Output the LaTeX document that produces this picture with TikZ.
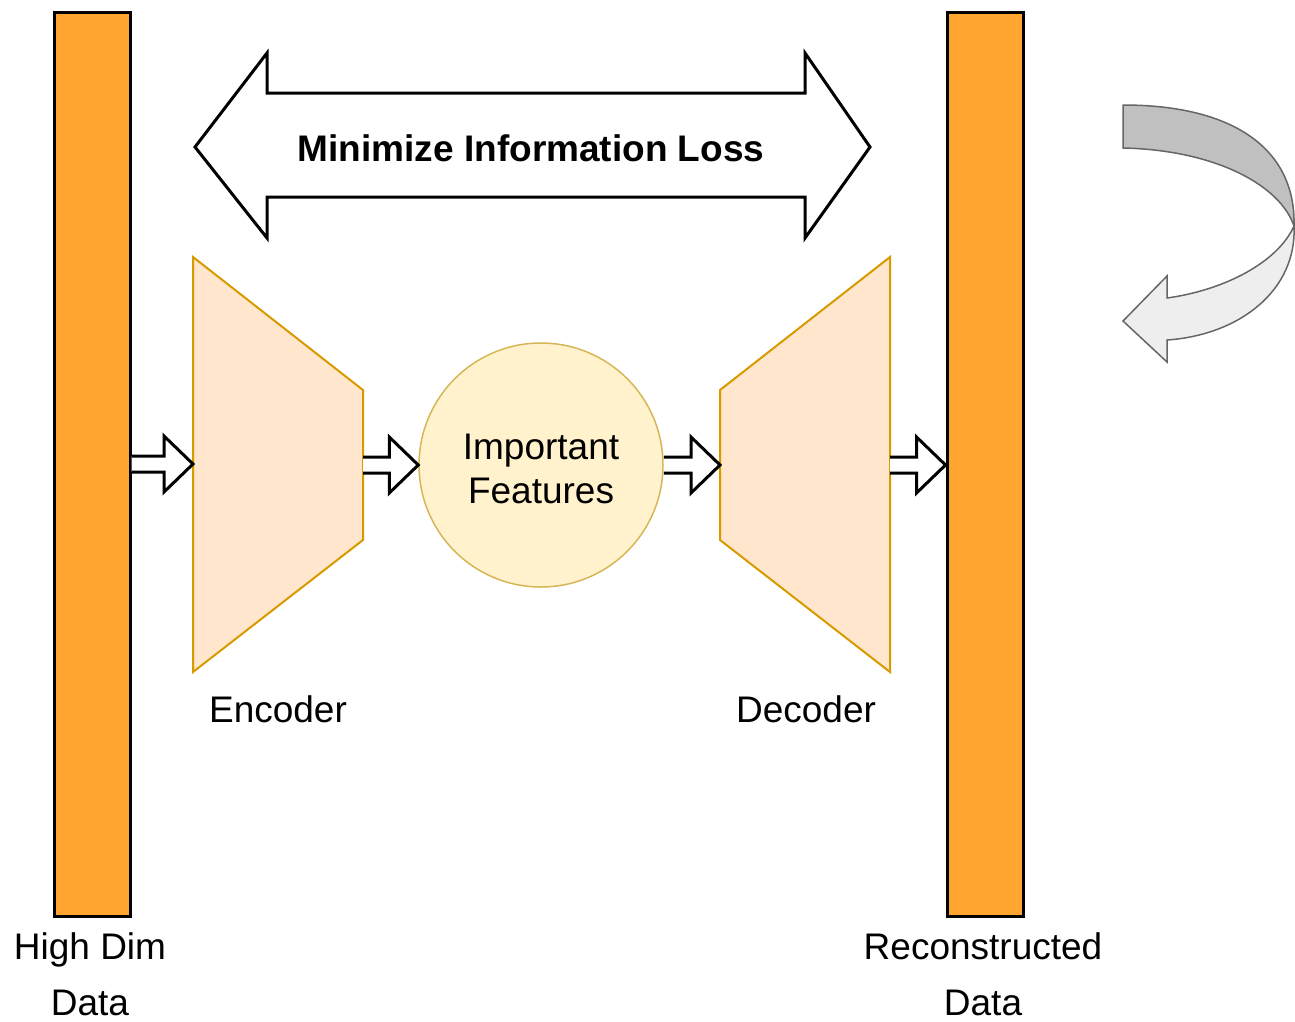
\documentclass[tikz,border=0pt]{standalone}
\usepackage{fontspec}
\setmainfont{Liberation Sans}
\usetikzlibrary{positioning, calc}
\definecolor{barorange}{HTML}{FFA530}
\definecolor{codefill}{HTML}{FFE6CC}
\definecolor{codeline}{HTML}{D79B00}
\definecolor{featfill}{HTML}{FFF2CC}
\definecolor{featline}{HTML}{D6B656}
\definecolor{loopline}{HTML}{666666}
\definecolor{loopdark}{HTML}{C0C0C0}
\definecolor{looplight}{HTML}{EEEEEE}
\tikzset{
  databar/.style={draw=black, line width=3pt, fill=barorange, inner sep=0pt,
                  minimum width=76pt, minimum height=904pt},
  coder/.style={draw=codeline, line width=2pt, fill=codefill, line join=miter},
  flow/.style={draw=black, line width=3pt, fill=white, line join=miter},
  label/.style={align=center, inner sep=0pt},
  loop/.style={draw=loopline, line width=1.5pt}
}
\newcommand{\flowarrow}[2]{%
  \draw[flow] let \p1=(#1), \p2=(#2) in
    (\x1,\y1+8pt) -- (\x2-29pt,\y1+8pt) -- (\x2-29pt,\y1+28pt) -- (\x2,\y1)
    -- (\x2-29pt,\y1-28pt) -- (\x2-29pt,\y1-8pt) -- (\x1,\y1-8pt);}

\begin{document}
\begin{tikzpicture}[x=1pt, y=-1pt, font=\fontsize{37}{44}\selectfont]
  \useasboundingbox (0,0) rectangle (1295,1021);

  \node[databar] (hdd) at (92,464) {};
  \node[databar] (rec) at (985,464) {};

  \draw[flow] (195,147) -- (267,53) -- (267,93) -- (805,93) -- (805,53)
    -- (870,147) -- (805,238) -- (805,197) -- (267,197) -- (267,238) -- cycle;
  \node[label, font=\fontsize{37}{44}\selectfont\bfseries] (loss) at (531,148) {Minimize Information Loss};

  \draw[coder] (193,257) -- (363,390) -- (363,540) -- (193,672) -- cycle;
  \draw[coder] (720,390) -- (890,257) -- (890,672) -- (720,540) -- cycle;
  \coordinate (enc-in) at (193,465);
  \coordinate (enc-out) at (363,465);
  \coordinate (dec-in) at (720,465);
  \coordinate (dec-out) at (890,465);

  \node[circle, draw=featline, line width=1.5pt, fill=featfill, minimum size=244pt,
        inner sep=0pt] (feat) at (541,465) {};
  \node[label] (feat-text) at (541,469) {Important\\Features};

  \flowarrow{hdd.east}{enc-in}
  \flowarrow{enc-out}{feat.west}
  \flowarrow{feat.east}{dec-in}
  \flowarrow{dec-out}{rec.west}

  \node[label] (enc) at (278,709) {Encoder};
  \node[label] (dec) at (806,709) {Decoder};
  \node[label, font=\fontsize{37}{56}\selectfont] (hdd-text) at (90,974) {High Dim\\Data};
  \node[label, font=\fontsize{37}{56}\selectfont] (rec-text) at (983,974) {Reconstructed\\Data};

  \coordinate (twist) at (1294,226);
  \draw[loop, fill=loopdark] (1123,105) .. controls (1235,105) and (1296,150) .. (twist)
    .. controls (1280,185) and (1215,150) .. (1123,148) -- cycle;
  \draw[loop, fill=looplight] (twist) .. controls (1297,290) and (1240,335) .. (1167,340)
    -- (1167,362) -- (1123,321) -- (1167,276) -- (1167,298)
    .. controls (1225,290) and (1278,262) .. (twist) -- cycle;
\end{tikzpicture}
\end{document}
